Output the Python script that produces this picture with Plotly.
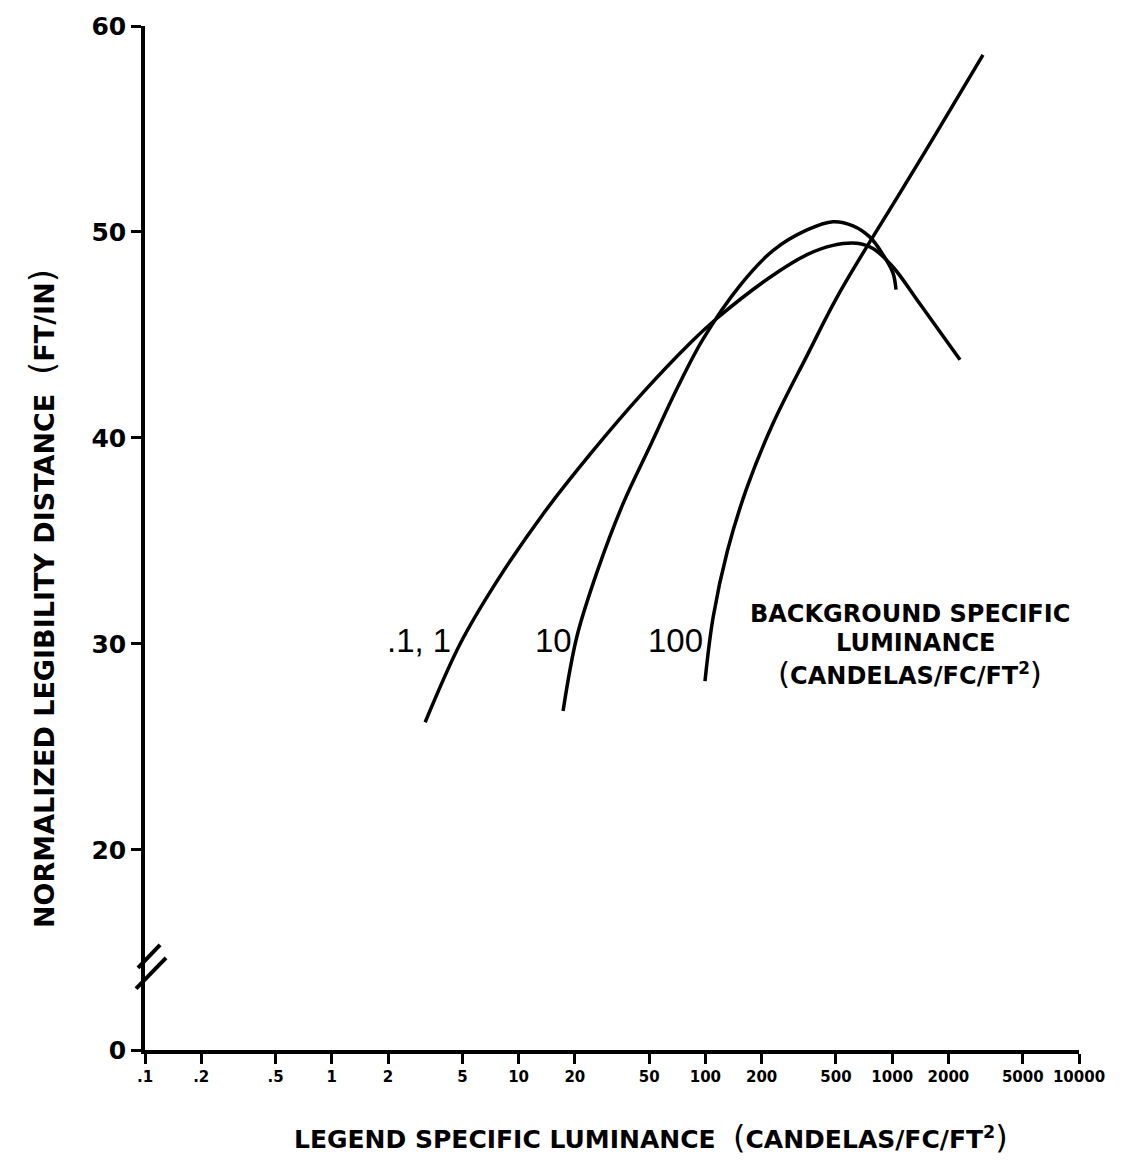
import plotly.graph_objects as go

# Legend specific luminance (candelas/fc/ft^2) and normalized legibility distance (ft/in)
bg_01_1_x = [3.16, 4.86, 7.66, 13.5, 24.1, 46.3, 82.7, 115, 230, 350, 482, 648, 789, 1010, 1409, 2307]
bg_01_1_y = [26.2, 30.0, 33.05, 36.3, 39.2, 42.2, 44.6, 45.8, 47.9, 48.9, 49.35, 49.45, 49.2, 48.3, 46.5, 43.8]

bg_10_x = [17.3, 20.5, 26.3, 36.2, 50.5, 70.5, 97.1, 153, 230, 350, 482, 617, 760, 893, 1010, 1048]
bg_10_y = [26.75, 30.35, 33.5, 36.8, 39.6, 42.4, 44.8, 47.4, 49.1, 50.1, 50.5, 50.3, 49.75, 48.9, 48.0, 47.2]

bg_100_x = [99.5, 110, 131, 167, 230, 350, 526, 1101, 1803, 3062]
bg_100_y = [28.2, 31.3, 34.5, 37.6, 40.7, 44.0, 47.1, 51.9, 55.1, 58.6]

x_tick_vals = [0.1, 0.2, 0.5, 1, 2, 5, 10, 20, 50, 100, 200, 500, 1000, 2000, 5000, 10000]
x_tick_text = [".1", ".2", ".5", "1", "2", "5", "10", "20", "50", "100", "200", "500", "1000", "2000", "5000", "10000"]

# y axis is broken: the "0" tick sits just below the 20 tick
y_zero_pos = 10.29
y_tick_vals = [y_zero_pos, 20, 30, 40, 50, 60]
y_tick_text = ["0", "20", "30", "40", "50", "60"]

FONT = "DejaVu Sans"
LABEL_FONT = "Liberation Sans"

fig = go.Figure()
for xs, ys in [(bg_01_1_x, bg_01_1_y), (bg_10_x, bg_10_y), (bg_100_x, bg_100_y)]:
    fig.add_trace(go.Scatter(x=xs, y=ys, mode="lines",
                             line=dict(color="black", width=3.5, shape="spline", smoothing=1.0),
                             showlegend=False, hoverinfo="skip"))

fig.update_layout(
    width=1137, height=1162,
    margin=dict(l=145, r=58, t=17, b=112),
    paper_bgcolor="white", plot_bgcolor="white",
    showlegend=False,
)
fig.update_xaxes(type="log", range=[-1, 4], tickmode="array",
                 tickvals=x_tick_vals, ticktext=x_tick_text,
                 showline=True, linecolor="black", linewidth=3.5,
                 ticks="outside", ticklen=10, tickwidth=3, tickcolor="black",
                 showgrid=False, zeroline=False,
                 tickfont=dict(family=FONT, size=15, color="black", weight="bold"))
fig.update_yaxes(range=[y_zero_pos, 60], tickmode="array",
                 tickvals=y_tick_vals, ticktext=y_tick_text,
                 showline=True, linecolor="black", linewidth=3.5,
                 ticks="outside", ticklen=10, tickwidth=3, tickcolor="black",
                 showgrid=False, zeroline=False,
                 tickfont=dict(family=FONT, size=25, color="black", weight="bold"))

# axis break marks
for (x0, y0, x1, y1) in [(-0.0075, 0.0803, 0.0161, 0.1026), (-0.0096, 0.0600, 0.0225, 0.0900)]:
    fig.add_shape(type="line", xref="paper", yref="paper", x0=x0, y0=y0, x1=x1, y1=y1,
                  line=dict(color="black", width=4))


def big(ch, sz):
    return "<span style='font-size:%dpx;font-weight:normal'>%s</span>" % (sz, ch)


ann = []
ann.append(dict(text="LEGEND SPECIFIC LUMINANCE  " + big("(", 32) + "CANDELAS/FC/FT<sup>2</sup>" + big(")", 32),
                x=0.5418, y=-0.0852, size=25))
ann.append(dict(text="NORMALIZED LEGIBILITY DISTANCE  " + big("(", 34) + "FT/IN" + big(")", 34),
                x=-0.1103, y=0.4414, textangle=-90, size=27))
ann.append(dict(text="BACKGROUND SPECIFIC", x=0.819, y=(1050 - 610) / 1033, size=24))
ann.append(dict(text="LUMINANCE", x=0.826, y=(1050 - 639) / 1033, size=24))
ann.append(dict(text=big("(", 31) + "CANDELAS/FC/FT<sup>2</sup>" + big(")", 31),
                x=0.819, y=(1050 - 670) / 1033, size=24))
for a in ann:
    sz = a.pop("size")
    fig.add_annotation(xref="paper", yref="paper", showarrow=False, xanchor="center", yanchor="middle",
                       font=dict(family=FONT, color="black", weight="bold", size=sz), **a)

# curve labels, right edges just left of each curve
for txt, px in [(".1, 1", 453), ("10", 574), ("100", 705)]:
    fig.add_annotation(xref="paper", yref="paper", showarrow=False, xanchor="right", yanchor="middle",
                       x=(px - 145) / 934, y=(1050 - 637) / 1033, text=txt,
                       font=dict(family=LABEL_FONT, size=33, color="black"))

fig.write_html("out.html")
